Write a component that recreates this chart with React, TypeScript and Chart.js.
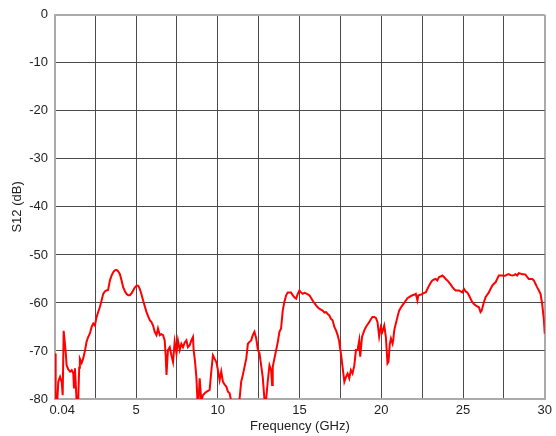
import React, { useEffect, useRef } from 'react';
import { Chart, registerables } from 'chart.js';

Chart.register(...registerables);

const freqGHz: number[] = [
  0.04, 0.08, 0.16, 0.24, 0.35, 0.45, 0.51, 0.57, 0.65, 0.71, 0.75, 0.85, 0.96, 1.06, 1.16, 1.2, 1.26, 1.32, 1.38, 1.46,
  1.52, 1.56, 1.67, 1.77, 1.87, 1.97, 2.07, 2.18, 2.28, 2.38, 2.48, 2.58, 2.68, 2.79, 2.89, 2.99, 3.09, 3.19, 3.29, 3.4,
  3.5, 3.6, 3.7, 3.8, 3.9, 4.01, 4.11, 4.21, 4.31, 4.41, 4.52, 4.62, 4.72, 4.82, 4.92, 5.03, 5.13, 5.23, 5.33, 5.43,
  5.54, 5.64, 5.74, 5.84, 5.94, 6.04, 6.14, 6.25, 6.34, 6.45, 6.55, 6.65, 6.75, 6.81, 6.86, 6.95, 7.06, 7.16, 7.26, 7.36,
  7.47, 7.56, 7.67, 7.77, 7.87, 7.97, 8.08, 8.17, 8.28, 8.38, 8.48, 8.52, 8.6, 8.69, 8.75, 8.8, 8.89, 8.99, 9.09, 9.2,
  9.3, 9.4, 9.5, 9.6, 9.7, 9.8, 9.91, 10.01, 10.11, 10.21, 10.31, 10.42, 10.52, 10.62, 10.72, 10.82, 10.95, 11.1, 11.25, 11.33,
  11.43, 11.53, 11.64, 11.74, 11.84, 11.94, 12.04, 12.14, 12.24, 12.35, 12.45, 12.55, 12.65, 12.75, 12.85, 12.96, 13.06, 13.16, 13.26, 13.32,
  13.36, 13.46, 13.57, 13.67, 13.77, 13.87, 13.97, 14.07, 14.18, 14.28, 14.38, 14.48, 14.58, 14.68, 14.79, 14.89, 14.99, 15.09, 15.19, 15.3,
  15.4, 15.5, 15.6, 15.7, 15.8, 15.9, 16.01, 16.11, 16.21, 16.31, 16.41, 16.52, 16.62, 16.72, 16.82, 16.92, 17.02, 17.13, 17.23, 17.33,
  17.43, 17.47, 17.53, 17.63, 17.74, 17.84, 17.94, 18.04, 18.14, 18.24, 18.35, 18.45, 18.55, 18.65, 18.71, 18.82, 18.96, 19.06, 19.16, 19.26,
  19.36, 19.46, 19.57, 19.67, 19.77, 19.87, 19.97, 20.07, 20.18, 20.28, 20.38, 20.44, 20.52, 20.59, 20.69, 20.73, 20.79, 20.89, 20.99, 21.09,
  21.19, 21.29, 21.4, 21.5, 21.6, 21.7, 21.8, 21.9, 22.0, 22.11, 22.21, 22.27, 22.39, 22.51, 22.62, 22.72, 22.82, 22.92, 23.02, 23.12,
  23.22, 23.33, 23.43, 23.53, 23.63, 23.73, 23.84, 23.94, 24.04, 24.14, 24.25, 24.35, 24.45, 24.55, 24.65, 24.75, 24.85, 24.95, 25.06, 25.16,
  25.26, 25.36, 25.46, 25.56, 25.67, 25.77, 25.87, 25.97, 26.07, 26.14, 26.21, 26.28, 26.38, 26.48, 26.58, 26.68, 26.79, 26.89, 26.99, 27.09,
  27.19, 27.3, 27.4, 27.5, 27.6, 27.7, 27.8, 27.9, 28.01, 28.11, 28.21, 28.31, 28.41, 28.52, 28.62, 28.72, 28.82, 28.92, 29.02, 29.13,
  29.23, 29.33, 29.43, 29.53, 29.64, 29.74, 29.84, 29.94, 30.0,
];

const s12dB: number[] = [
  -70.5, -79.5, -82, -76.4, -75.4, -76.5, -79.2, -65.8, -68.5, -70.9, -73.0, -73.8, -74.3, -74.0, -74.7, -77.8, -73.6, -77.5, -82, -80.5,
  -73.5, -71.6, -72.5, -71.5, -70.0, -68.1, -67.1, -66.3, -65.0, -64.3, -64.7, -63.0, -61.9, -60.8, -59.5, -58.1, -57.6, -57.4, -57.3, -55.3,
  -54.3, -53.6, -53.2, -53.1, -53.4, -54.0, -55.3, -56.7, -57.5, -58.1, -58.4, -58.4, -58.0, -57.4, -56.8, -56.4, -56.4, -57.1, -58.2, -59.5,
  -60.8, -61.9, -62.8, -63.6, -64.0, -64.7, -66.0, -66.7, -65.3, -66.7, -66.5, -66.7, -67.8, -70.9, -75.0, -69.8, -69.2, -70.9, -72.3, -68.1,
  -70.5, -67.8, -69.8, -68.5, -69.2, -68.3, -67.8, -69.2, -68.8, -67.8, -67.1, -69.8, -72.0, -75.5, -80, -82, -75.7, -80.5, -79.2, -78.8,
  -78.5, -78.3, -78.1, -74.3, -70.9, -71.6, -72.3, -74.0, -76.1, -74.3, -76.4, -77.0, -77.4, -78.5, -78.8, -80.5, -83, -83, -82, -80,
  -76.4, -75.0, -73.2, -71.6, -68.5, -68.1, -67.8, -66.7, -66.0, -67.4, -69.8, -70.5, -73.0, -75.5, -80, -79.9, -76.1, -73.0, -74.0, -77.1,
  -73.3, -71.6, -69.8, -68.1, -66.0, -65.3, -61.6, -59.8, -58.4, -57.8, -57.8, -57.8, -58.4, -58.8, -59.1, -58.1, -57.4, -57.8, -58.1, -57.9,
  -58.0, -58.2, -58.4, -58.9, -59.5, -60.0, -60.5, -60.9, -61.2, -61.4, -61.6, -62.0, -61.9, -62.3, -62.6, -63.3, -63.6, -65.0, -65.7, -66.7,
  -68.1, -69.2, -70.5, -73.3, -76.4, -75.4, -74.7, -75.7, -74.0, -74.7, -73.0, -69.8, -69.8, -67.8, -71.2, -67.1, -65.7, -65.0, -64.5, -64.0,
  -63.4, -62.9, -62.9, -63.1, -64.0, -67.0, -65.0, -66.0, -64.7, -67.1, -72.6, -72.3, -68.5, -67.4, -68.5, -67.8, -65.7, -64.3, -62.9, -61.6,
  -61.0, -60.5, -60.0, -59.5, -59.0, -58.8, -58.6, -58.4, -58.3, -58.1, -59.5, -58.4, -58.3, -58.1, -57.9, -57.8, -57.1, -56.4, -55.8, -55.3,
  -55.1, -55.0, -55.3, -54.6, -54.5, -54.3, -54.6, -55.0, -55.3, -55.7, -56.2, -56.7, -57.1, -57.4, -57.4, -57.4, -57.6, -57.8, -57.1, -57.6,
  -57.8, -58.4, -59.1, -59.8, -60.2, -60.5, -60.7, -60.9, -61.9, -61.6, -60.7, -59.8, -58.8, -58.3, -57.8, -57.1, -56.4, -56.0, -55.7, -55.0,
  -54.3, -54.3, -54.3, -54.4, -54.3, -54.1, -54.0, -54.2, -54.3, -54.2, -54.0, -54.3, -53.8, -53.9, -54.0, -54.0, -54.1, -54.6, -55.0, -55.0,
  -55.0, -55.3, -56.0, -56.7, -57.4, -58.1, -60.2, -63.3, -66.4,
];

const xTickValues: number[] = [0.04, 2.5, 5, 7.5, 10, 12.5, 15, 17.5, 20, 22.5, 25, 27.5, 30];
const xTickLabels: string[] = ['    0.04', '', '5', '', '10', '', '15', '', '20', '', '25', '', '30'];
const yMin = -80;
const yMax = 0;
const yStep = 10;
const xMin = 0.04;
const xMax = 30;

const FONT = 'Arial, "Liberation Sans", sans-serif';

export default function App() {
  const ref = useRef<HTMLCanvasElement>(null);
  useEffect(() => {
    document.body.style.margin = '0';
    const gridCol = (edge: boolean) => (edge ? '#ababab' : '#4a4a4a');
    const chart = new Chart(ref.current!, {
      type: 'line',
      data: {
        datasets: [
          {
            data: freqGHz.map((f, i) => ({ x: f, y: s12dB[i] })),
            borderColor: '#ff0000',
            borderWidth: 2,
            pointRadius: 0,
            tension: 0,
            fill: false,
          },
        ],
      },
      options: {
        animation: false,
        responsive: false,
        devicePixelRatio: 1,
        layout: { padding: { top: 13, right: 10, left: 0, bottom: 0 } },
        plugins: { legend: { display: false }, tooltip: { enabled: false } },
        scales: {
          x: {
            type: 'linear',
            min: xMin,
            max: xMax,
            afterBuildTicks: (s: any) => {
              s.ticks = xTickValues.map((v) => ({ value: v }));
            },
            afterFit: (s: any) => {
              s.height = 37;
            },
            ticks: {
              autoSkip: false,
              maxRotation: 0,
              callback: (_v: any, i: number) => xTickLabels[i],
              font: { family: FONT, size: 13 },
              color: '#222',
              padding: 4,
            },
            grid: {
              drawTicks: false,
              color: (ctx: any) => gridCol(ctx.tick && (ctx.tick.value === xMin || ctx.tick.value === xMax)),
              lineWidth: (ctx: any) => (ctx.tick && (ctx.tick.value === xMin || ctx.tick.value === xMax) ? 2 : 1),
            },
            border: { color: '#ababab', width: 2 },
            title: {
              display: true,
              text: 'Frequency (GHz)',
              font: { family: FONT, size: 13 },
              color: '#222',
              padding: { top: 0, bottom: 2 },
            },
          },
          y: {
            type: 'linear',
            min: yMin,
            max: yMax,
            afterFit: (s: any) => {
              s.width = 55;
            },
            ticks: {
              stepSize: yStep,
              font: { family: FONT, size: 13 },
              color: '#222',
              padding: 7,
            },
            grid: {
              drawTicks: false,
              color: (ctx: any) => gridCol(ctx.tick && (ctx.tick.value === yMin || ctx.tick.value === yMax)),
              lineWidth: (ctx: any) => (ctx.tick && (ctx.tick.value === yMin || ctx.tick.value === yMax) ? 2 : 1),
            },
            border: { color: '#ababab', width: 2 },
            title: {
              display: true,
              text: 'S12 (dB)',
              font: { family: FONT, size: 13 },
              color: '#222',
              padding: { top: 10, bottom: 0 },
            },
          },
        },
      },
    } as any);
    return () => chart.destroy();
  }, []);
  return <canvas ref={ref} width={556} height={436} style={{ display: 'block' }} />;
}
